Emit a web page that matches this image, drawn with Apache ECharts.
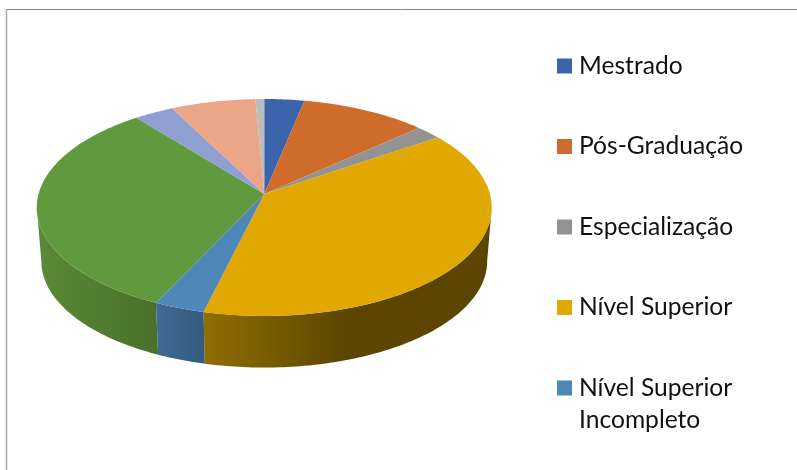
<!DOCTYPE html>
<html>
<head>
<meta charset="utf-8">
<style>
  html, body { margin: 0; padding: 0; background: #fff; }
  #chart { width: 797px; height: 470px; }
</style>
<script src="https://cdn.jsdelivr.net/npm/echarts@6/dist/echarts.min.js"></script>
</head>
<body>
<div id="chart"></div>
<script>
// the legend in the source is cut off after five entries, last four names are placeholders
const categories = ['Mestrado', 'Pós-Graduação', 'Especialização', 'Nível Superior',
  'Nível Superior Incompleto', 'Categoria 6', 'Categoria 7', 'Categoria 8', 'Categoria 9']
const values = [3.2, 10.1, 2.1, 38.4, 3.2, 32.3, 3.2, 6.8, 0.7]
const legendNames = categories.slice(0, 5)

const colors = ['#3b64ad', '#d06c2b', '#939393', '#e0a800', '#4f87b9', '#619a3e', '#8f9fd1', '#eba587', '#bcbcbc']
// wall gradient per slice: [left colour, right colour, offset where the right colour is reached]
const wallShades = {
  3: ['#8f6e00', '#5c4500', 0.5],
  4: ['#3f6b95', '#335a7c', 1],
  5: ['#5a8a37', '#49702b', 1]
}

// perspective of the pie: apex, radii and foreshortening
const cx = 264.25
const topY = 194
const bottomY = 248
const rx = 225.7
const ry = 106.8
const k = 0.1244
const bottomScale = 0.98
const silhouette = Math.acos(-k) // angle where the rim turns away from the viewer

const total = values.reduce((a, b) => a + b, 0)
const starts = []
values.reduce((sum, v, i) => { starts[i] = sum; return sum + v }, 0)
const toAngle = (v) => v / total * Math.PI * 2

const rim = (a, y0, scale) => {
  const u = Math.sin(a)
  const v = -Math.cos(a)
  const w = 1 - k * v
  return [cx + scale * rx * u / w, y0 + scale * ry * v / w]
}

const arc = (a0, a1, y0, scale) => {
  const n = Math.max(2, Math.ceil((a1 - a0) / (Math.PI / 180)))
  const pts = []
  for (let i = 0; i <= n; i++) pts.push(rim(a0 + (a1 - a0) * i / n, y0, scale))
  return pts
}

const renderSlice = (index) => (params, api) => {
  const a0 = toAngle(starts[index])
  const a1 = toAngle(starts[index] + values[index])
  const children = []

  const from = Math.max(a0, silhouette)
  const to = Math.min(a1, Math.PI * 2 - silhouette)
  if (to > from) {
    const upper = arc(from, to, topY, 1)
    const lower = arc(from, to, bottomY, bottomScale).reverse()
    const pts = upper.concat(lower)
    const xs = pts.map((p) => p[0])
    const shade = wallShades[index]
    const fill = new echarts.graphic.LinearGradient(Math.min(...xs), 0, Math.max(...xs), 0, [
      { offset: 0, color: shade[0] },
      { offset: shade[2], color: shade[1] },
      { offset: 1, color: shade[1] }
    ], true)
    children.push({ type: 'polygon', shape: { points: pts }, style: { fill: fill } })
  }

  const face = [[cx, topY]].concat(arc(a0, a1, topY, 1))
  children.push({ type: 'polygon', shape: { points: face }, style: { fill: colors[index] } })
  return { type: 'group', children: children }
}

const chart = echarts.init(document.getElementById('chart'), null, { renderer: 'canvas' })

chart.setOption({
  animation: false,
  backgroundColor: '#fff',
  legend: {
    data: legendNames,
    orient: 'vertical',
    left: 557,
    top: 51,
    padding: 0,
    itemWidth: 15,
    itemHeight: 15,
    itemGap: 50.5,
    icon: 'rect',
    selectedMode: false,
    formatter: (name) => name === 'Nível Superior Incompleto' ? 'Nível Superior' : name,
    textStyle: {
      fontFamily: 'Lato',
      fontSize: 24.6,
      lineHeight: 30,
      color: '#111',
      padding: [0, 0, 0, 2]
    }
  },
  graphic: [
    { type: 'line', shape: { x1: 6, y1: 9.5, x2: 797, y2: 9.5 }, style: { stroke: '#8a8a8a', lineWidth: 1 } },
    { type: 'line', shape: { x1: 6.5, y1: 9, x2: 6.5, y2: 470 }, style: { stroke: '#a8a8a8', lineWidth: 1.5 } },
    { type: 'text', left: 579, top: 408, style: { text: 'Incompleto', font: '24.6px Lato', fill: '#111' } }
  ],
  series: categories.map((name, i) => ({
    name: name,
    type: 'custom',
    coordinateSystem: 'none',
    silent: true,
    itemStyle: { color: colors[i] },
    renderItem: renderSlice(i),
    data: [values[i]]
  }))
})
</script>
</body>
</html>
